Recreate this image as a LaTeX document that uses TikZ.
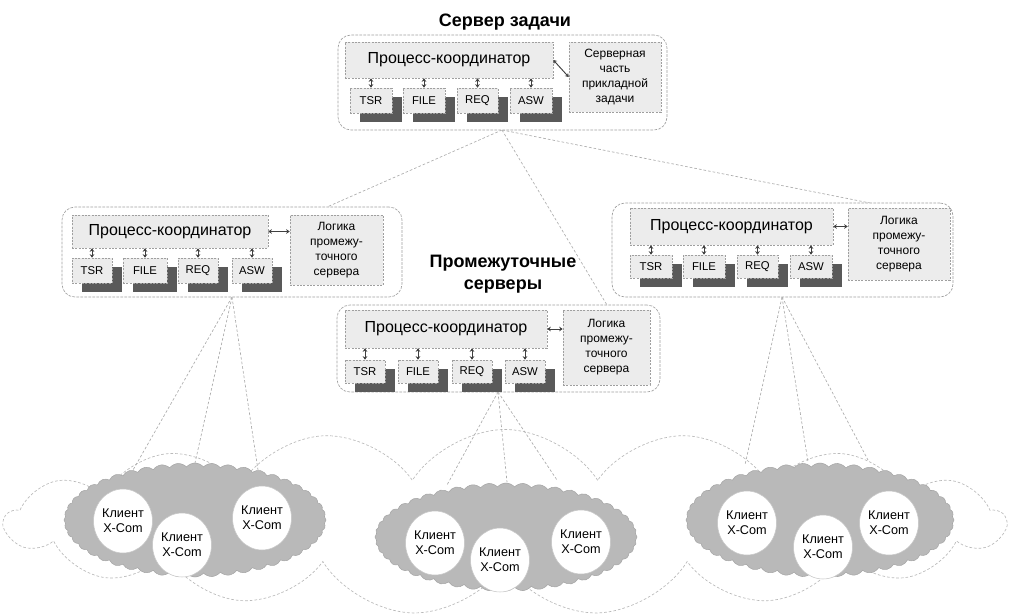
\documentclass[tikz,border=0pt]{standalone}
\usepackage{fontspec}
\setmainfont{Liberation Sans}
\usetikzlibrary{fit,shapes.geometric,shapes.symbols,arrows.meta}
\newdimen\pxu \pxu=0.75pt
\tikzset{
  outerbox/.style={draw=gray!75, dash pattern=on 2pt off 1pt, rounded corners=13\pxu, fill=white, inner sep=0pt, line width=0.5pt},
  partbox/.style={draw=gray!75, dash pattern=on 1.5pt off 1pt, fill=gray!15, inner sep=0pt, line width=0.45pt},
  shadowbox/.style={fill=gray!70!black},
  coordtxt/.style={font=\fontsize{12}{14}\selectfont, inner sep=0pt},
  smalltxt/.style={font=\fontsize{8.5}{10}\selectfont, inner sep=0pt},
  sidetxt/.style={font=\fontsize{9}{11.25}\selectfont, align=center, inner sep=0pt},
  titletxt/.style={font=\fontsize{13.5}{16.5}\selectfont\bfseries, align=center},
  dblarrow/.style={{Stealth[length=2.6pt,width=3.4pt]}-{Stealth[length=2.6pt,width=3.4pt]}, line width=0.7pt, draw=black!75},
  link/.style={draw=gray!65, dash pattern=on 2pt off 1.5pt, line width=0.5pt},
  netcloud/.style={cloud, cloud puffs=17, cloud puff arc=115, draw=gray!55, dash pattern=on 2pt off 1.5pt, line width=0.5pt},
  graycloud/.style={cloud, cloud puffs=48, cloud puff arc=100, fill=gray!55, draw=gray!70, line width=0.4pt},
  client/.style={ellipse, fill=white, draw=gray!45, line width=0.4pt, minimum width=58\pxu, minimum height=64\pxu, inner sep=0pt, align=center, font=\fontsize{9.5}{11.25}\selectfont}
}
% box with text: name, x1, y1, x2, y2, text style, text
\newcommand\tbox[7]{%
  \node[partbox, fit={(#2,#3) (#4,#5)}] (#1) {};
  \node[#6] (#1-t) at (#1.center) {#7};}
\newcommand\tile[6]{%
  \fill[shadowbox] (#2+10,#3+9) rectangle (#4+10,#5+9);
  \tbox{#1}{#2}{#3}{#4}{#5}{smalltxt}{#6}}
\begin{document}
\begin{tikzpicture}[x=0.75pt, y=-0.75pt]
\useasboundingbox (0,0) rectangle (1010,614);

% big network cloud
\node[netcloud, minimum width=1000\pxu, minimum height=185\pxu] (net) at (505,522) {};

% coordinates for connector ends
\coordinate (lt) at (327,207);
\coordinate (mt) at (607,305);
\coordinate (rt) at (870,203);
\coordinate (l1) at (133,470);
\coordinate (l2) at (195,463);
\coordinate (l3) at (258,470);
\coordinate (m1) at (447,485);
\coordinate (m2) at (507,482);
\coordinate (m3) at (557,480);
\coordinate (r1) at (745,465);
\coordinate (r2) at (808,462);
\coordinate (r3) at (868,460);
\coordinate (topap) at (502,130);
\coordinate (leftap) at (232,297);
\coordinate (midap) at (498,392);
\coordinate (rightap) at (782,297);

% connectors
\draw[link] (topap) -- (lt);
\draw[link] (topap) -- (mt);
\draw[link] (topap) -- (rt);
\draw[link] (leftap) -- (l1);
\draw[link] (leftap) -- (l2);
\draw[link] (leftap) -- (l3);
\draw[link] (midap) -- (m1);
\draw[link] (midap) -- (m2);
\draw[link] (midap) -- (m3);
\draw[link] (rightap) -- (r1);
\draw[link] (rightap) -- (r2);
\draw[link] (rightap) -- (r3);

% client clouds
\node[graycloud, minimum width=262\pxu, minimum height=114\pxu] (cl1) at (195,520) {};
\node[graycloud, minimum width=262\pxu, minimum height=108\pxu] (cl2) at (506,537) {};
\node[graycloud, minimum width=268\pxu, minimum height=114\pxu] (cl3) at (820,520) {};

\node[client] (c11) at (123,521) {Клиент\\X-Com};
\node[client] (c12) at (182,545) {Клиент\\X-Com};
\node[client] (c13) at (262,518) {Клиент\\X-Com};
\node[client] (c21) at (435,543) {Клиент\\X-Com};
\node[client] (c22) at (500,560) {Клиент\\X-Com};
\node[client] (c23) at (581,542) {Клиент\\X-Com};
\node[client] (c31) at (747,523) {Клиент\\X-Com};
\node[client] (c32) at (823,547) {Клиент\\X-Com};
\node[client] (c33) at (889,523) {Клиент\\X-Com};

% titles
\node[titletxt] (t1) at (505,22) {Сервер задачи};
\node[titletxt] (t2) at (503,274) {Промежуточные\\серверы};

% ---- top server
\node[outerbox, fit={(338,35) (667,130)}] (top) {};
\tbox{topc}{345}{42}{553}{78}{coordtxt}{Процесс-координатор}
\tbox{tops}{569}{42}{661}{112}{sidetxt}{Серверная\\часть\\прикладной\\задачи}
\tile{topa}{350}{88}{392}{113}{TSR}
\tile{topb}{403}{88}{445}{113}{FILE}
\tile{topd}{457}{88}{498}{113}{REQ}
\tile{tope}{510}{88}{552}{113}{ASW}
\foreach \b in {topa,topb,topd,tope} \draw[dblarrow] (\b.north) -- (\b.north |- topc.south);
\draw[dblarrow] (topc.east) -- (tops.west);

% ---- left server
\node[outerbox, fit={(62,207) (402,297)}] (lef) {};
\tbox{lefc}{72}{215}{268}{248}{coordtxt}{Процесс-координатор}
\tbox{lefs}{290}{215}{383}{285}{sidetxt}{Логика\\промежу-\\точного\\сервера}
\tile{lefa}{72}{258}{112}{283}{TSR}
\tile{lefb}{123}{258}{167}{283}{FILE}
\tile{lefd}{178}{258}{218}{283}{REQ}
\tile{lefe}{232}{258}{272}{283}{ASW}
\foreach \b in {lefa,lefb,lefd,lefe} \draw[dblarrow] (\b.north) -- (\b.north |- lefc.south);
\draw[dblarrow] (lefc.east) -- (lefs.west |- lefc.east);

% ---- middle server
\node[outerbox, fit={(337,305) (660,392)}] (mid) {};
\tbox{midc}{345}{310}{547}{348}{coordtxt}{Процесс-координатор}
\tbox{mids}{563}{310}{650}{385}{sidetxt}{Логика\\промежу-\\точного\\сервера}
\tile{mida}{345}{360}{385}{383}{TSR}
\tile{midb}{398}{360}{438}{383}{FILE}
\tile{midd}{452}{360}{492}{383}{REQ}
\tile{mide}{505}{360}{545}{383}{ASW}
\foreach \b in {mida,midb,midd,mide} \draw[dblarrow] (\b.north) -- (\b.north |- midc.south);
\draw[dblarrow] (midc.east) -- (mids.west |- midc.east);

% ---- right server
\node[outerbox, fit={(612,203) (953,297)}] (rig) {};
\tbox{rigc}{630}{208}{833}{245}{coordtxt}{Процесс-координатор}
\tbox{rigs}{848}{208}{950}{280}{sidetxt}{Логика\\промежу-\\точного\\сервера}
\tile{riga}{630}{255}{672}{278}{TSR}
\tile{rigb}{683}{255}{725}{278}{FILE}
\tile{rigd}{737}{255}{778}{278}{REQ}
\tile{rige}{790}{255}{832}{278}{ASW}
\foreach \b in {riga,rigb,rigd,rige} \draw[dblarrow] (\b.north) -- (\b.north |- rigc.south);
\draw[dblarrow] (rigc.east) -- (rigs.west |- rigc.east);
\end{tikzpicture}
\end{document}
